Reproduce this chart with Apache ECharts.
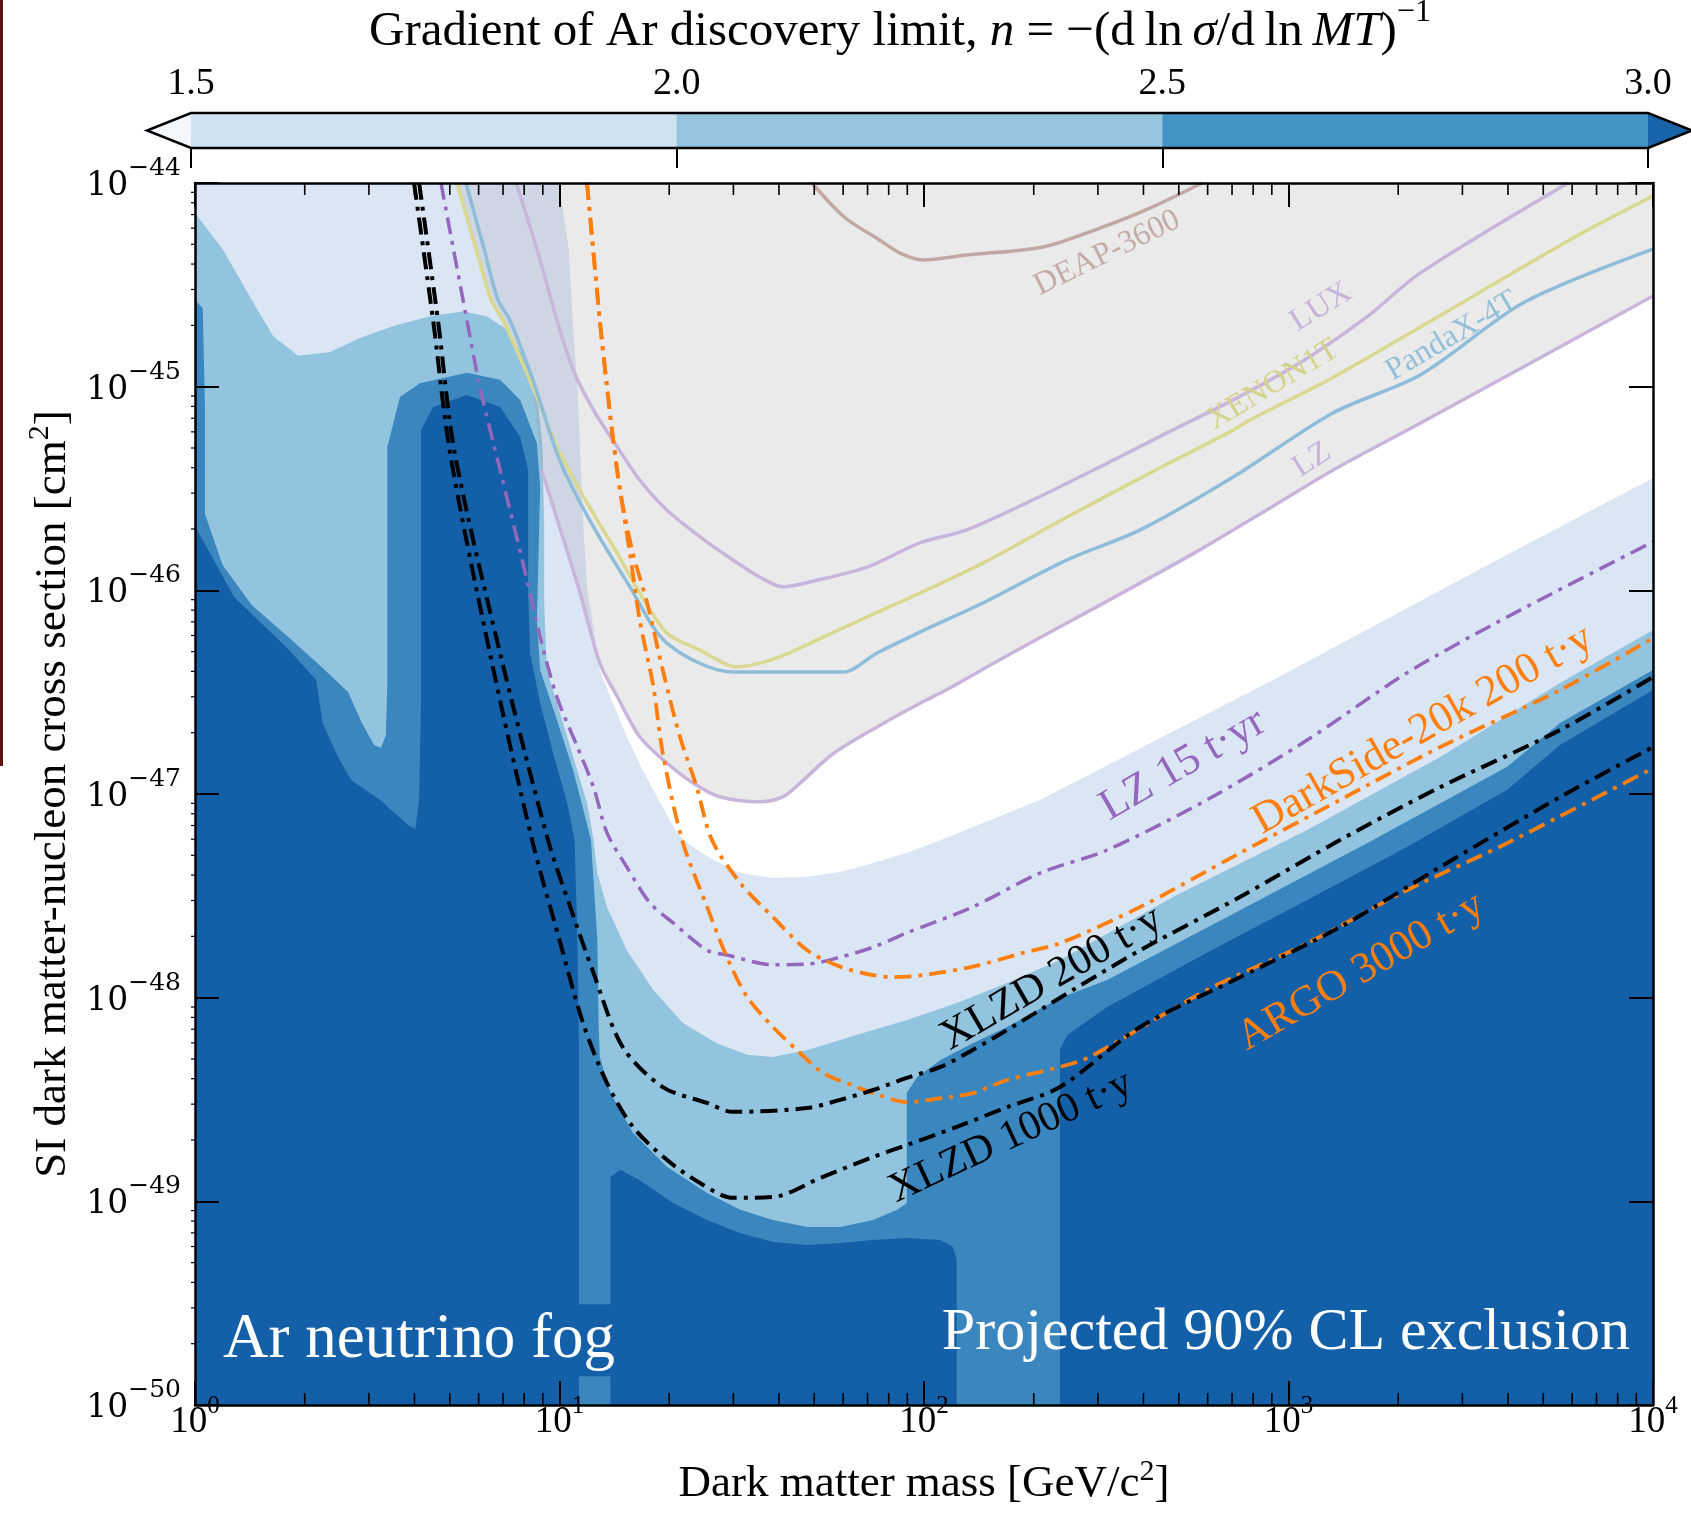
<!DOCTYPE html>
<html>
<head>
<meta charset="utf-8">
<script src="https://cdn.jsdelivr.net/npm/echarts@6/dist/echarts.min.js"></script>
<style>
html,body{margin:0;padding:0;background:#fff;}
#chart{width:1691px;height:1527px;}
</style>
</head>
<body>
<div id="chart"></div>
<script>
// ======================= DATA (mass in GeV/c^2, cross section in cm^2) =======================
const xTickExponents = [0, 1, 2, 3, 4];
const yTickExponents = [-50, -49, -48, -47, -46, -45, -44];
const colorbarLevels = [1.5, 2.0, 2.5, 3.0];

// Existing limits
const LZ_2022 = [[8.93,3.90e-46],[10.0,2.05e-46],[11.4,9.66e-47],[12.9,4.39e-47],[14.4,3.01e-47],[16.6,1.91e-47],[19.7,1.42e-47],[23.3,1.13e-47],[27.5,9.70e-48],[35.5,9.16e-48],[41.1,9.70e-48],[45.7,1.13e-47],[56.4,1.58e-47],[77.3,2.22e-47],[97.5,2.79e-47],[115,3.24e-47],[161,4.55e-47],[246,6.89e-47],[375,1.04e-46],[571,1.58e-46],[871,2.48e-46],[1327,3.90e-46],[2296,6.61e-46],[10000,2.79e-45]];
const LUX = [[7.60,1.0e-44],[8.67,4.74e-45],[9.84,2.12e-45],[10.9,1.21e-45],[12.4,7.67e-46],[14.4,5.06e-46],[16.6,3.48e-46],[19.7,2.48e-46],[24.3,1.83e-46],[29.9,1.41e-46],[35.5,1.16e-46],[41.0,1.04e-46],[50.8,1.12e-46],[69.8,1.30e-46],[97.5,1.71e-46],[131,1.98e-46],[199,2.78e-46],[304,4.04e-46],[464,5.93e-46],[705,8.61e-46],[1076,1.31e-45],[1641,2.20e-45],[2296,3.61e-45],[5848,1.0e-44]];
const XENON1T = [[5.23,1.0e-44],[5.90,4.74e-45],[6.49,2.67e-45],[7.00,2.12e-45],[8.45,9.95e-46],[9.84,5.06e-46],[11.9,2.69e-46],[14.4,1.52e-46],[16.6,9.70e-47],[19.7,6.18e-47],[24.3,5.09e-47],[30.7,4.21e-47],[39.5,4.66e-47],[50.8,5.70e-47],[69.8,7.40e-47],[97.5,9.70e-47],[145,1.36e-46],[247,2.29e-46],[417,3.77e-46],[705,6.12e-46],[784,6.86e-46],[1324,1.11e-45],[2296,1.96e-45],[6109,5.43e-45],[10000,8.63e-45]];
const PANDAX_4T = [[5.54,1.0e-44],[6.21,4.74e-45],[6.78,2.67e-45],[7.31,2.12e-45],[8.45,1.08e-45],[10.0,4.37e-46],[12.1,2.21e-46],[15.6,1.04e-46],[19.7,5.51e-47],[29.9,3.97e-47],[60.0,3.97e-47],[74.3,4.92e-47],[97.5,6.24e-47],[145,8.67e-47],[247,1.41e-46],[392,1.98e-46],[705,3.60e-46],[1324,7.43e-46],[2296,1.14e-45],[4457,2.61e-45],[10000,4.74e-45]];
const DEAP_3600 = [[49.3,1.0e-44],[60.4,6.81e-45],[76.2,5.19e-45],[85.9,4.53e-45],[99.3,4.19e-45],[131,4.43e-45],[212,4.85e-45],[304,6.01e-45],[417,7.53e-45],[579,1.0e-44]];

// Projected 90% CL exclusions
const LZ_15TYR = [[4.73,1.0e-44],[5.57,2.12e-45],[6.05,9.95e-46],[6.87,3.90e-46],[7.94,1.36e-46],[8.85,5.90e-47],[9.84,2.99e-47],[11.2,1.70e-47],[12.4,1.08e-47],[13.5,6.44e-48],[15.3,4.38e-48],[17.7,2.92e-48],[20.5,2.33e-48],[25.4,1.71e-48],[28.8,1.62e-48],[38.5,1.45e-48],[47.8,1.46e-48],[58.9,1.58e-48],[72.5,1.77e-48],[89.7,2.08e-48],[136,2.79e-48],[208,4.09e-48],[318,5.31e-48],[597,9.35e-48],[1125,1.84e-47],[2113,3.93e-47],[3981,7.40e-47],[10000,1.73e-46]];
const DS20K_200TY = [[11.9,1.0e-44],[12.9,2.12e-45],[13.5,9.95e-46],[14.0,5.66e-46],[14.7,3.01e-46],[15.9,1.52e-46],[17.4,8.67e-47],[19.2,4.06e-47],[21.4,1.91e-47],[23.8,1.08e-47],[26.2,5.94e-48],[31.3,3.66e-48],[38.5,2.49e-48],[47.8,1.71e-48],[58.9,1.42e-48],[72.5,1.29e-48],[82.2,1.26e-48],[99.3,1.29e-48],[136,1.42e-48],[187,1.66e-48],[236,1.85e-48],[392,2.79e-48],[736,5.13e-48],[1384,9.35e-48],[2606,1.70e-47],[5559,3.24e-47],[10000,5.83e-47]];
const ARGO_3000TY = [[11.9,1.0e-44],[12.9,2.12e-45],[13.5,9.95e-46],[14.0,5.66e-46],[14.7,3.01e-46],[15.6,1.52e-46],[16.6,7.14e-47],[18.1,3.35e-47],[19.2,1.59e-47],[21.7,5.94e-48],[25.4,2.79e-48],[28.8,1.58e-48],[32.7,1.01e-48],[38.5,7.18e-49],[45.7,5.35e-49],[52.8,4.27e-49],[65.5,3.64e-49],[72.5,3.40e-49],[89.7,3.07e-49],[111,3.21e-49],[136,3.40e-49],[169,3.94e-49],[236,4.57e-49],[285,5.12e-49],[597,1.09e-48],[1125,1.85e-48],[2113,3.37e-48],[3981,5.74e-48],[10000,1.34e-47]];
const XLZD_200TY = [[4.12,1.0e-44],[4.64,2.12e-45],[5.16,4.72e-46],[6.87,4.92e-47],[9.30,5.94e-48],[10.7,2.79e-48],[12.4,1.32e-48],[14.9,5.73e-49],[19.2,3.64e-49],[25.4,3.04e-49],[29.9,2.75e-49],[47.8,2.87e-49],[58.9,3.15e-49],[72.5,3.52e-49],[89.7,4.04e-49],[111,4.57e-49],[136,5.53e-49],[169,6.93e-49],[208,8.69e-49],[256,1.09e-48],[392,1.71e-48],[736,3.12e-48],[1384,5.94e-48],[2606,1.08e-47],[5559,2.06e-47],[10000,3.75e-47]];
const XLZD_1000TY = [[3.99,1.0e-44],[4.50,2.12e-45],[5.01,4.72e-46],[6.44,4.92e-47],[8.41,5.94e-48],[10.0,1.92e-48],[11.6,7.52e-49],[13.5,3.81e-49],[15.9,2.32e-49],[19.7,1.60e-49],[24.3,1.23e-49],[29.9,1.04e-49],[38.5,1.05e-49],[52.8,1.32e-49],[72.5,1.65e-49],[89.7,1.89e-49],[123,2.32e-49],[169,2.90e-49],[236,3.64e-49],[392,7.18e-49],[736,1.26e-48],[1384,2.22e-48],[2606,4.38e-48],[5559,9.66e-48],[10000,1.70e-47]];

// Neutrino-fog contour outlines (region where gradient n >= level)
const FOG_N15 = [[1,1e-44],[9.95,1e-44],[10.6,4.74e-45],[10.9,1.94e-45],[11.2,9.95e-46],[11.4,4.72e-46],[11.6,2.21e-46],[11.9,1.04e-46],[12.9,4.06e-47],[14.0,2.80e-47],[15.3,1.91e-47],[16.9,1.31e-47],[18.9,9.04e-48],[21.0,6.44e-48],[22.8,5.62e-48],[26.4,4.74e-48],[31.3,4.09e-48],[38.5,3.87e-48],[47.8,3.92e-48],[58.9,4.14e-48],[72.5,4.58e-48],[89.7,5.13e-48],[111,5.94e-48],[208,9.35e-48],[907,3.63e-47],[3733,1.41e-46],[10000,3.56e-46],[10000,1e-50],[1,1e-50]];
const FOG_N20 = [[1,7.13e-45],[1.19,4.74e-45],[1.43,2.67e-45],[1.64,1.77e-45],[1.92,1.42e-45],[2.35,1.48e-45],[2.82,1.73e-45],[3.52,1.99e-45],[4.42,2.22e-45],[5.41,2.34e-45],[6.32,2.22e-45],[7.08,1.94e-45],[7.94,1.42e-45],[8.67,9.53e-46],[8.98,5.06e-46],[9.08,2.07e-46],[9.08,8.47e-47],[9.23,4.06e-47],[10.5,1.91e-47],[11.9,9.04e-48],[12.4,5.94e-48],[12.7,4.09e-48],[13.5,2.79e-48],[15.3,1.71e-48],[18.1,1.09e-48],[21.8,7.52e-49],[27.0,5.98e-49],[32.7,5.24e-49],[38.5,5.12e-49],[47.8,5.53e-49],[58.9,6.19e-49],[72.5,6.93e-49],[89.7,7.76e-49],[123,9.42e-49],[169,1.18e-48],[236,1.53e-48],[482,3.12e-48],[1125,6.65e-48],[2606,1.52e-47],[5559,3.51e-47],[10000,6.38e-47],[10000,1e-50],[1,1e-50]];
const FOG_N25 = [[1,2.67e-45],[1.05,2.43e-45],[1.065,7.94e-46],[1.065,2.37e-46],[1.19,1.33e-46],[1.43,8.47e-47],[1.79,5.97e-47],[2.24,4.16e-47],[2.63,3.17e-47],[2.87,2.23e-47],[3.10,1.74e-47],[3.24,1.68e-47],[3.34,1.95e-47],[3.37,3.47e-47],[3.37,5.06e-46],[3.65,8.89e-46],[4.14,1.04e-45],[5.57,1.17e-45],[6.87,1.08e-45],[7.80,8.61e-46],[8.67,5.28e-46],[8.85,3.21e-46],[8.67,7.14e-47],[8.85,4.06e-47],[9.84,2.31e-47],[10.9,1.31e-47],[12.2,5.94e-48],[12.7,1.92e-48],[12.8,7.52e-49],[12.9,5.12e-49],[13.8,3.40e-49],[15.9,2.17e-49],[19.7,1.48e-49],[25.4,1.10e-49],[31.3,9.08e-50],[38.5,8.10e-50],[47.8,7.48e-50],[58.9,7.48e-50],[72.5,8.10e-50],[84.3,9.08e-50],[89.7,9.82e-50],[89.7,3.40e-49],[95.7,4.07e-49],[111,4.94e-49],[136,5.98e-49],[169,7.18e-49],[236,9.95e-49],[318,1.22e-48],[736,2.69e-48],[1706,5.94e-48],[3981,1.36e-47],[5559,2.23e-47],[10000,4.06e-47],[10000,1e-50],[1,1e-50]];
const FOG_N30_LOW = [[1,2.07e-46],[1.28,9.27e-47],[1.79,5.21e-47],[2.15,3.63e-47],[2.24,2.23e-47],[2.45,1.56e-47],[2.68,1.17e-47],[3.22,9.35e-48],[3.84,7.05e-48],[4.02,6.73e-48],[4.12,9.35e-48],[4.17,2.90e-47],[4.17,6.12e-46],[4.50,7.94e-46],[5.57,9.10e-46],[6.87,7.94e-46],[7.80,5.66e-46],[8.20,3.90e-46],[8.20,1.04e-46],[8.30,4.92e-47],[8.85,2.80e-47],[9.60,1.59e-47],[10.5,9.04e-48],[11.0,5.94e-48],[11.2,1.92e-48],[11.3,6.19e-49],[11.3,1e-50],[1,1e-50]];
const FOG_N30_MID = [[13.8,1e-50],[13.8,1.32e-49],[14.7,1.43e-49],[16.6,1.27e-49],[20.5,9.82e-50],[25.4,8.10e-50],[31.3,7.00e-50],[38.5,6.31e-50],[47.8,6.11e-50],[58.9,6.24e-50],[72.5,6.46e-50],[89.7,6.61e-50],[111,6.46e-50],[120,5.97e-50],[123,5.15e-50],[123,1e-50]];
const FOG_N30_HIGH = [[236,1e-50],[236,5.53e-49],[247,6.56e-49],[318,8.99e-49],[597,1.66e-48],[1125,3.02e-48],[2113,5.50e-48],[3981,1.05e-47],[5559,1.74e-47],[10000,3.24e-47],[10000,1e-50]];

// ======================= STYLE / LAYOUT =======================
const SERIF = '"Liberation Serif", "Times New Roman", serif';
const DSERIF = '"DejaVu Serif", serif';
const FOG_COLORS = ['#dbe6f5', '#93c4df', '#3a86bf', '#1460a8'];
const CBAR_COLORS = ['#d0e1f2', '#94c4df', '#4594c7'];
const CBAR_UNDER = '#f4f8fd', CBAR_OVER = '#1764ab';
const GREY_FILL = 'rgba(150,150,150,0.2)';
const XMIN = xTickExponents[0], XMAX = xTickExponents[xTickExponents.length - 1];
const YMIN = yTickExponents[0], YMAX = yTickExponents[yTickExponents.length - 1];

const toLog = p => [Math.log10(p[0]), Math.log10(p[1])];

function areaSeries(name, pts, color, z) {
  const lp = pts.map(toLog);
  return {
    type: 'custom', name, xAxisIndex: 0, yAxisIndex: 0, z, silent: true, clip: true,
    data: [lp[0]],
    renderItem: (params, api) => ({
      type: 'polygon',
      shape: { points: lp.map(p => api.coord(p)) },
      style: { fill: color }
    })
  };
}
function lineSeries(name, pts, color, width, dash, z) {
  return {
    type: 'line', name, xAxisIndex: 0, yAxisIndex: 0, data: pts.map(toLog),
    symbol: 'none', showSymbol: false, silent: true, clip: true, z, smooth: 0.3,
    lineStyle: { color, width, type: dash || 'solid', cap: 'butt', join: 'round' }
  };
}
const DASHDOT = [17, 7, 4, 7];

// grey band of existing exclusion (union of existing limits)
const lzStart = LZ_2022[0][0];
const GREY_OUTLINE = [...XENON1T.filter(p => p[0] < lzStart), ...LZ_2022, [1e4, 1e-44]];

// text annotations (anchor in data units, rotation in degrees)
const annotations = [
  { text: 'DEAP-3600', m: 318, s: 4.53e-45, angle: 26, color: '#c4aba5', size: 32 },
  { text: 'LUX', m: 1228, s: 2.46e-45, angle: 32, color: '#c7b3da', size: 32 },
  { text: 'XENON1T', m: 906, s: 1.02e-45, angle: 31, color: '#d3d38a', size: 32 },
  { text: 'PandaX-4T', m: 2810, s: 1.77e-45, angle: 30.5, color: '#94bfd9', size: 32 },
  { text: 'LZ', m: 1160, s: 4.37e-46, angle: 33, color: '#c7b3da', size: 32 },
  { text: 'LZ 15 t\u00b7yr', m: 514, s: 1.39e-47, angle: 30, color: '#9467bd', size: 44 },
  { text: 'DarkSide-20k 200 t\u00b7y', m: 2339, s: 2.06e-47, angle: 29.5, color: '#ff7f0e', size: 44 },
  { text: 'XLZD 200 t\u00b7y', m: 224, s: 1.24e-48, angle: 30, color: '#000000', size: 43 },
  { text: 'XLZD 1000 t\u00b7y', m: 173, s: 2.07e-49, angle: 25, color: '#000000', size: 42 },
  { text: 'ARGO 3000 t\u00b7y', m: 1581, s: 1.34e-48, angle: 30, color: '#ff7f0e', size: 43 },
  { text: 'Ar neutrino fog', m: 1.15, s: 2.08e-50, angle: 0, color: '#ffffff', size: 63, align: 'left',
    bg: FOG_COLORS[3], lineHeight: 58, pad: [0, 6, 14, 6] },
  { text: 'Projected 90% CL exclusion', m: 8650, s: 2.26e-50, angle: 0, color: '#ffffff', size: 60, align: 'right' }
];

const minorX = [], minorY = [];
for (let d = XMIN; d < XMAX; d++) for (let k = 2; k <= 9; k++) minorX.push(d + Math.log10(k));
for (let d = YMIN; d < YMAX; d++) for (let k = 2; k <= 9; k++) minorY.push(d + Math.log10(k));

const fmtPow = v => {
  const e = Math.round(v);
  return '{b|10}{s|' + (e < 0 ? '\u2212' + (-e) : e) + '}';
};
const xTickRich = {
  b: { fontFamily: SERIF, fontSize: 37, lineHeight: 40, verticalAlign: 'bottom', color: '#000' },
  s: { fontFamily: SERIF, fontSize: 25, lineHeight: 25, padding: [0, 0, 22, 0], verticalAlign: 'bottom', color: '#000' }
};
const yTickRich = {
  b: { fontFamily: DSERIF, fontSize: 33, lineHeight: 40, verticalAlign: 'bottom', color: '#000' },
  s: { fontFamily: DSERIF, fontSize: 25, lineHeight: 25, padding: [0, 0, 22, 0], verticalAlign: 'bottom', color: '#000' }
};
const nameRich = {
  t: { fontFamily: SERIF, fontSize: 45, lineHeight: 48, verticalAlign: 'bottom', color: '#000' },
  u: { fontFamily: SERIF, fontSize: 30, lineHeight: 30, padding: [0, 0, 20, 0], verticalAlign: 'bottom', color: '#000' }
};

const frameLine = { show: true, onZero: false, lineStyle: { color: '#000', width: 2.5 } };
const majorTick = { show: true, inside: true, length: 24, lineStyle: { color: '#000', width: 2 } };

const chart = echarts.init(document.getElementById('chart'), null, { renderer: 'canvas' });
chart.setOption({
  animation: false,
  backgroundColor: '#ffffff',
  grid: [
    { left: 195, top: 183, width: 1458, height: 1222, containLabel: false, outerBoundsMode: 'none' },
    { left: 191, top: 113, width: 1457, height: 35, containLabel: false, outerBoundsMode: 'none' }
  ],
  xAxis: [
    { type: 'value', gridIndex: 0, position: 'bottom', min: XMIN, max: XMAX, interval: 1, z: 50,
      axisLine: frameLine, axisTick: majorTick, splitLine: { show: false },
      axisLabel: { show: true, margin: -4, formatter: fmtPow, rich: xTickRich, showMinLabel: true, showMaxLabel: true },
      name: '{t|Dark matter mass [GeV/c}{u|2}{t|]}', nameLocation: 'middle', nameGap: 54, nameTextStyle: { rich: nameRich } },
    { type: 'value', gridIndex: 0, position: 'top', min: XMIN, max: XMAX, interval: 1, z: 50,
      axisLine: frameLine, axisTick: majorTick, splitLine: { show: false }, axisLabel: { show: false } },
    { type: 'value', gridIndex: 1, position: 'top', min: colorbarLevels[0], max: colorbarLevels[colorbarLevels.length - 1], interval: 0.5, z: 50,
      axisLine: { show: false }, splitLine: { show: false },
      axisTick: { show: true, inside: true, length: 20, lineStyle: { color: '#000', width: 2 } },
      axisLabel: { show: true, margin: 10, formatter: v => v.toFixed(1), fontFamily: SERIF, fontSize: 38, lineHeight: 38, color: '#000', showMinLabel: true, showMaxLabel: true } }
  ],
  yAxis: [
    { type: 'value', gridIndex: 0, position: 'left', min: YMIN, max: YMAX, interval: 1, z: 50,
      axisLine: frameLine, axisTick: majorTick, splitLine: { show: false },
      axisLabel: { show: true, margin: 14, formatter: fmtPow, rich: yTickRich, showMinLabel: true, showMaxLabel: true },
      name: '{t|SI dark matter-nucleon cross section [cm}{u|2}{t|]}', nameLocation: 'middle', nameGap: 119, nameTextStyle: { rich: nameRich } },
    { type: 'value', gridIndex: 0, position: 'right', min: YMIN, max: YMAX, interval: 1, z: 50,
      axisLine: frameLine, axisTick: majorTick, splitLine: { show: false }, axisLabel: { show: false } },
    { type: 'value', gridIndex: 1, min: 0, max: 1, show: false }
  ],
  graphic: [
    { type: 'rect', left: 0, top: 0, shape: { x: 0, y: 0, width: 3, height: 766 }, style: { fill: '#5a1212' }, silent: true },
    { type: 'text', x: 900, y: 30, silent: true,
      style: {
        text: '{r|Gradient of Ar discovery limit, }{i|n}{r| = \u2212(d\u2009ln\u2009}{i|\u03c3}{r|/d\u2009ln\u2009}{i|MT}{r|)}{s|\u22121}',
        align: 'center', verticalAlign: 'middle', fill: '#000',
        rich: {
          r: { fontFamily: SERIF, fontSize: 49, lineHeight: 54, verticalAlign: 'bottom', fill: '#000' },
          i: { fontFamily: SERIF, fontSize: 49, lineHeight: 54, fontStyle: 'italic', verticalAlign: 'bottom', fill: '#000' },
          s: { fontFamily: SERIF, fontSize: 32, lineHeight: 32, padding: [0, 0, 28, 0], verticalAlign: 'bottom', fill: '#000' }
        }
      } }
  ],
  series: [
    areaSeries('n>=1.5', FOG_N15, FOG_COLORS[0], 1),
    areaSeries('n>=2.0', FOG_N20, FOG_COLORS[1], 2),
    areaSeries('n>=2.5', FOG_N25, FOG_COLORS[2], 3),
    areaSeries('n>=3.0 low', FOG_N30_LOW, FOG_COLORS[3], 4),
    areaSeries('n>=3.0 mid', FOG_N30_MID, FOG_COLORS[3], 4),
    areaSeries('n>=3.0 high', FOG_N30_HIGH, FOG_COLORS[3], 4),
    areaSeries('existing exclusion', GREY_OUTLINE, GREY_FILL, 5),
    lineSeries('DEAP-3600', DEAP_3600, '#c2a8a2', 3.5, null, 6),
    lineSeries('LUX', LUX, '#c9b5dc', 3.5, null, 6),
    lineSeries('XENON1T', XENON1T, '#d8d88e', 3.5, null, 6),
    lineSeries('PandaX-4T', PANDAX_4T, '#8fbcd8', 3.5, null, 6),
    lineSeries('LZ', LZ_2022, '#c9b5dc', 3.5, null, 6),
    lineSeries('LZ 15 t·yr', LZ_15TYR, '#9467bd', 3.5, DASHDOT, 7),
    lineSeries('DarkSide-20k 200 t·y', DS20K_200TY, '#ff7f0e', 3.8, DASHDOT, 7),
    lineSeries('ARGO 3000 t·y', ARGO_3000TY, '#ff7f0e', 3.8, DASHDOT, 7),
    lineSeries('XLZD 200 t·y', XLZD_200TY, '#000000', 4, DASHDOT, 7),
    lineSeries('XLZD 1000 t·y', XLZD_1000TY, '#000000', 4, DASHDOT, 7),
    {
      type: 'custom', name: 'labels', xAxisIndex: 0, yAxisIndex: 0, z: 8, silent: true, clip: false,
      data: annotations.map(a => [Math.log10(a.m), Math.log10(a.s)]),
      renderItem: (params, api) => {
        const a = annotations[params.dataIndex];
        const p = api.coord([api.value(0), api.value(1)]);
        const style = {
          text: a.text, fill: a.color, fontFamily: SERIF, fontSize: a.size,
          align: a.align || 'center', verticalAlign: 'middle'
        };
        if (a.bg) { style.backgroundColor = a.bg; style.padding = a.pad; style.lineHeight = a.lineHeight; }
        return { type: 'text', x: p[0], y: p[1], rotation: a.angle * Math.PI / 180, style };
      }
    },
    {
      type: 'custom', name: 'minor ticks', xAxisIndex: 0, yAxisIndex: 0, z: 60, silent: true, clip: false,
      data: [[XMIN, YMIN]],
      renderItem: (params, api) => {
        const ch = [];
        minorX.forEach(x => {
          const b = api.coord([x, YMIN]), t = api.coord([x, YMAX]);
          ch.push({ type: 'line', shape: { x1: b[0], y1: b[1], x2: b[0], y2: b[1] - 12 }, style: { stroke: '#000', lineWidth: 1.6 } });
          ch.push({ type: 'line', shape: { x1: t[0], y1: t[1], x2: t[0], y2: t[1] + 12 }, style: { stroke: '#000', lineWidth: 1.6 } });
        });
        minorY.forEach(y => {
          const l = api.coord([XMIN, y]);
          ch.push({ type: 'line', shape: { x1: l[0], y1: l[1], x2: l[0] - 4, y2: l[1] }, style: { stroke: '#000', lineWidth: 1.2 } });
        });
        return { type: 'group', children: ch };
      }
    },
    {
      type: 'custom', name: 'colorbar', xAxisIndex: 2, yAxisIndex: 2, z: 5, silent: true, clip: false,
      data: [[colorbarLevels[0], 0]],
      renderItem: (params, api) => {
        const ch = [];
        const top = api.coord([colorbarLevels[0], 1])[1], bot = api.coord([colorbarLevels[0], 0])[1];
        const mid = (top + bot) / 2;
        for (let i = 0; i < colorbarLevels.length - 1; i++) {
          const x0 = api.coord([colorbarLevels[i], 0])[0], x1 = api.coord([colorbarLevels[i + 1], 0])[0];
          ch.push({ type: 'rect', shape: { x: x0, y: top, width: x1 - x0 + 0.5, height: bot - top }, style: { fill: CBAR_COLORS[i] } });
        }
        const xl = api.coord([colorbarLevels[0], 0])[0];
        const xr = api.coord([colorbarLevels[colorbarLevels.length - 1], 0])[0];
        const ext = 44;
        ch.push({ type: 'polygon', shape: { points: [[xl, top], [xl - ext, mid], [xl, bot]] }, style: { fill: CBAR_UNDER } });
        ch.push({ type: 'polygon', shape: { points: [[xr, top], [xr + ext, mid], [xr, bot]] }, style: { fill: CBAR_OVER } });
        ch.push({ type: 'polygon', shape: { points: [[xl, top], [xr, top], [xr + ext, mid], [xr, bot], [xl, bot], [xl - ext, mid]] },
          style: { fill: 'none', stroke: '#000', lineWidth: 2.5 } });
        return { type: 'group', children: ch };
      }
    }
  ]
});
</script>
</body>
</html>
